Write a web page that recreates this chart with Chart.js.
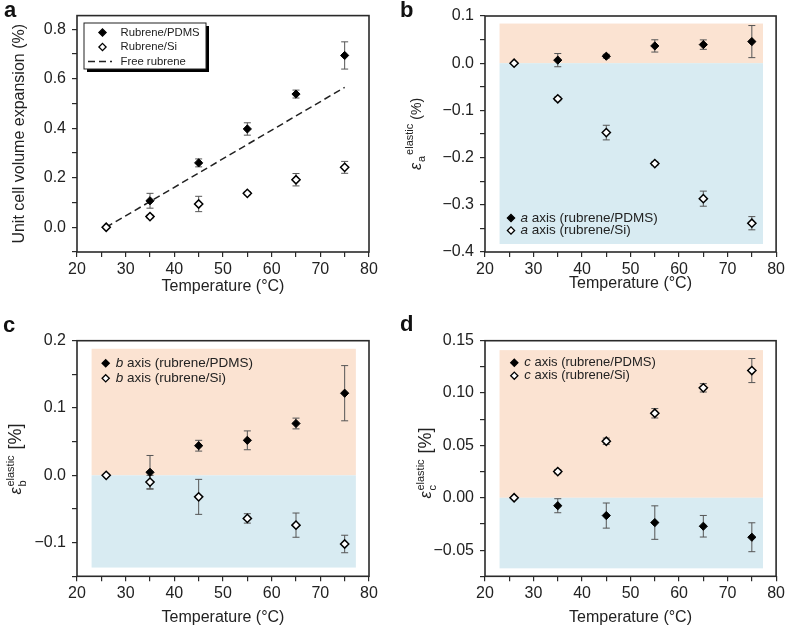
<!DOCTYPE html>
<html>
<head>
<meta charset="utf-8">
<script src="https://cdn.jsdelivr.net/npm/chart.js@4.4.1/dist/chart.umd.min.js"></script>
<style>
  body { margin: 0; background: #fff; }
  canvas { position: absolute; }
</style>
</head>
<body>
<canvas id="chartA" width="394" height="313" style="left:0;top:0"></canvas>
<canvas id="chartB" width="394" height="313" style="left:394px;top:0"></canvas>
<canvas id="chartC" width="394" height="314" style="left:0;top:313px"></canvas>
<canvas id="chartD" width="394" height="314" style="left:394px;top:313px"></canvas>
<script>
// Temperatures (°C)
const tempsSi = [26, 35, 45, 55, 65, 75];
const tempsPdms = [35, 45, 55, 65, 75];

// (a) unit cell volume expansion (%)
const volPdms = [0.107, 0.260, 0.397, 0.538, 0.694];
const volPdmsErr = [0.030, 0.016, 0.025, 0.016, 0.055];
const volSi = [0, 0.043, 0.094, 0.137, 0.192, 0.242];
const volSiErr = [0, 0.006, 0.031, 0.006, 0.025, 0.024];
const freeTemps = [26, 75];
const freeVol = [0, 0.565];
const legendA = ['Rubrene/PDMS', 'Rubrene/Si', 'Free rubrene'];

// (b) elastic strain, a axis (%)
const aPdms = [0.0065, 0.0148, 0.0366, 0.0394, 0.0458];
const aPdmsErr = [0.014, 0.004, 0.013, 0.010, 0.034];
const aSi = [0, -0.0754, -0.147, -0.2127, -0.287, -0.339];
const aSiErr = [0, 0.004, 0.0155, 0.004, 0.016, 0.014];
const legendB = ['a axis (rubrene/PDMS)', 'a axis (rubrene/Si)'];

// (c) elastic strain, b axis (%)
const bPdms = [0.0045, 0.044, 0.052, 0.077, 0.122];
const bPdmsErr = [0.025, 0.008, 0.014, 0.008, 0.041];
const bSi = [0, -0.010, -0.032, -0.064, -0.074, -0.102];
const bSiErr = [0, 0.010, 0.026, 0.007, 0.018, 0.013];
const legendC = ['b axis (rubrene/PDMS)', 'b axis (rubrene/Si)'];

// (d) elastic strain, c axis (%)
const cPdms = [-0.0076, -0.017, -0.0237, -0.0272, -0.0377];
const cPdmsErr = [0.0067, 0.012, 0.016, 0.0103, 0.0138];
const cSi = [0, 0.025, 0.054, 0.0807, 0.105, 0.1215];
const cSiErr = [0, 0.002, 0.003, 0.0045, 0.004, 0.0115];
const legendD = ['c axis (rubrene/PDMS)', 'c axis (rubrene/Si)'];

// shaded tensile / compressive regions: [temperature range], [top, bottom] strain
const bandTemps = [23, 77.3];
const bandsB = [0.084, -0.383];
const bandsC = [0.188, -0.137];
const bandsD = [0.141, -0.0674];

const FONT = '"Liberation Sans", Arial, sans-serif';
const TENSILE = '#fbe3d2';
const COMPRESSIVE = '#d8ebf2';

const pts = (xs, ys) => xs.map((x, i) => ({ x: x, y: ys[i] }));

function filledSet(label, xs, ys, errs) {
  return { label: label, data: pts(xs, ys), errors: errs, pointStyle: 'rectRot', pointRadius: 4.1,
    backgroundColor: '#000', borderColor: '#000', borderWidth: 1 };
}
function openSet(label, xs, ys, errs) {
  return { label: label, data: pts(xs, ys), errors: errs, pointStyle: 'rectRot', pointRadius: 4.1,
    backgroundColor: '#fff', borderColor: '#000', borderWidth: 1.5 };
}

function fmtTick(v, every, dec) {
  const k = Math.round(v / every);
  if (Math.abs(v - k * every) > every * 1e-6) return '';
  const s = Math.abs(v).toFixed(dec);
  return v < -1e-9 ? '\u2212' + s : s;
}

function diamond(ctx, x, y, r, filled) {
  ctx.beginPath();
  ctx.moveTo(x, y - r);
  ctx.lineTo(x + r, y);
  ctx.lineTo(x, y + r);
  ctx.lineTo(x - r, y);
  ctx.closePath();
  ctx.fillStyle = filled ? '#000' : '#fff';
  ctx.fill();
  ctx.lineWidth = 1.3;
  ctx.strokeStyle = '#000';
  ctx.stroke();
}

function drawLegend(ctx, lg) {
  if (lg.box) {
    const b = lg.box;
    ctx.fillStyle = '#000';
    ctx.fillRect(b.x + 3, b.y + 3, b.w, b.h);
    ctx.fillStyle = '#fff';
    ctx.fillRect(b.x, b.y, b.w, b.h);
    ctx.strokeStyle = '#222';
    ctx.lineWidth = 1;
    ctx.strokeRect(b.x, b.y, b.w, b.h);
  }
  lg.labels.forEach((label, i) => {
    const y = lg.y + i * lg.gap;
    const kind = lg.kinds[i];
    if (kind === 'dash') {
      ctx.save();
      ctx.setLineDash([7, 4]);
      ctx.strokeStyle = '#222';
      ctx.lineWidth = 1.5;
      ctx.beginPath();
      ctx.moveTo(lg.dashX[0], y);
      ctx.lineTo(lg.dashX[1], y);
      ctx.stroke();
      ctx.restore();
    } else {
      diamond(ctx, lg.markerX, y, lg.r, kind === 'filled');
    }
    ctx.fillStyle = '#222';
    ctx.textBaseline = 'middle';
    ctx.textAlign = 'left';
    let x = lg.textX;
    let rest = label;
    if (lg.italicFirst) {
      const sp = label.indexOf(' ');
      const it = label.slice(0, sp);
      ctx.font = 'italic ' + lg.size + 'px ' + FONT;
      ctx.fillText(it, x, y);
      x += ctx.measureText(it).width;
      rest = label.slice(sp);
    }
    ctx.font = lg.size + 'px ' + FONT;
    ctx.fillText(rest, x, y);
  });
}

// rotated y title: epsilon with subscript axis and superscript "elastic"
function drawStrainTitle(ctx, t) {
  ctx.save();
  ctx.translate(t.x, t.cy);
  ctx.rotate(-Math.PI / 2);
  ctx.textBaseline = 'alphabetic';
  ctx.textAlign = 'left';
  ctx.fillStyle = '#222';
  const epsFont = 'italic ' + t.epsSize + 'px ' + FONT;
  const smallFont = t.smallSize + 'px ' + FONT;
  const unitFont = t.unitSize + 'px ' + FONT;
  ctx.font = epsFont;
  const wE = ctx.measureText('\u03b5').width;
  ctx.font = smallFont;
  const wSub = ctx.measureText(t.sub).width;
  const wSup = ctx.measureText('elastic').width;
  ctx.font = unitFont;
  const wU = ctx.measureText(t.unit).width;
  const wScript = t.supAfterSub ? wSub + 1 + wSup : Math.max(wSub, wSup);
  const total = wE + 1 + wScript + t.gap + wU;
  let x = -total / 2;
  ctx.font = epsFont;
  ctx.fillText('\u03b5', x, 0);
  x += wE + 1;
  ctx.font = smallFont;
  ctx.fillText(t.sub, x, t.subShift);
  ctx.fillText('elastic', t.supAfterSub ? x + wSub + 1 : x, -t.supShift);
  x += wScript + t.gap;
  ctx.font = unitFont;
  ctx.fillText(t.unit, x, 0);
  ctx.restore();
}

const panelPlugin = {
  id: 'panel',
  beforeDatasetsDraw(chart, args, o) {
    const { ctx, scales: { x, y } } = chart;
    ctx.save();
    if (o.bands) {
      const x0 = x.getPixelForValue(bandTemps[0]);
      const x1 = x.getPixelForValue(bandTemps[1]);
      const yz = y.getPixelForValue(0);
      const yt = y.getPixelForValue(o.bands[0]);
      const yb = y.getPixelForValue(o.bands[1]);
      ctx.fillStyle = TENSILE;
      ctx.fillRect(x0, yt, x1 - x0, yz - yt);
      ctx.fillStyle = COMPRESSIVE;
      ctx.fillRect(x0, yz, x1 - x0, yb - yz);
    }
    // error bars
    ctx.strokeStyle = '#555';
    ctx.lineWidth = 1;
    chart.data.datasets.forEach(ds => {
      if (!ds.errors) return;
      ds.data.forEach((p, i) => {
        const e = ds.errors[i];
        if (!e) return;
        const px = x.getPixelForValue(p.x);
        const top = y.getPixelForValue(p.y + e);
        const bot = y.getPixelForValue(p.y - e);
        ctx.beginPath();
        ctx.moveTo(px, top); ctx.lineTo(px, bot);
        ctx.moveTo(px - 3.5, top); ctx.lineTo(px + 3.5, top);
        ctx.moveTo(px - 3.5, bot); ctx.lineTo(px + 3.5, bot);
        ctx.stroke();
      });
    });
    ctx.restore();
  },
  afterDraw(chart, args, o) {
    const { ctx, chartArea: ca } = chart;
    ctx.save();
    ctx.strokeStyle = '#2a2a2a';
    ctx.lineWidth = 1.6;
    ctx.strokeRect(ca.left, ca.top, ca.right - ca.left, ca.bottom - ca.top);
    ctx.fillStyle = '#111';
    ctx.font = 'bold 22px ' + FONT;
    ctx.textBaseline = 'alphabetic';
    ctx.textAlign = 'left';
    ctx.fillText(o.letter, o.letterX, o.letterY);
    if (o.legend) drawLegend(ctx, o.legend);
    if (o.strainTitle) drawStrainTitle(ctx, o.strainTitle);
    ctx.restore();
  }
};

function makeChart(id, cfg) {
  const canvas = document.getElementById(id);
  const W = canvas.width, H = canvas.height;
  const a = cfg.area;
  const gridOpts = { drawOnChartArea: false, drawTicks: true, tickLength: 5, tickColor: '#2a2a2a', lineWidth: 1.2 };
  return new Chart(canvas, {
    type: 'scatter',
    data: { datasets: cfg.datasets },
    options: {
      responsive: false,
      animation: false,
      layout: { padding: { left: 0, top: a.top, right: W - a.right, bottom: 0 } },
      plugins: { legend: { display: false }, tooltip: { enabled: false }, panel: cfg.panel },
      scales: {
        x: {
          type: 'linear', min: 20, max: 80,
          border: { display: false },
          grid: gridOpts,
          ticks: { stepSize: 5, padding: 3, autoSkip: false, maxRotation: 0, color: '#222',
            font: { family: FONT, size: 16 }, callback: v => fmtTick(v, 10, 0) },
          title: { display: true, text: 'Temperature (°C)', color: '#222',
            font: { family: FONT, size: 16 }, padding: { top: 0, bottom: cfg.xTitlePad } },
          afterFit: s => { s.height = H - a.bottom; }
        },
        y: {
          type: 'linear', min: cfg.yMin, max: cfg.yMax,
          border: { display: false },
          grid: gridOpts,
          ticks: { stepSize: cfg.yStep, includeBounds: false, padding: 6, autoSkip: false, color: '#222',
            font: { family: FONT, size: 16 }, callback: v => fmtTick(v, cfg.yLabelStep, cfg.yDec) },
          title: cfg.yTitle
            ? { display: true, text: cfg.yTitle, color: '#222', font: { family: FONT, size: 16 }, padding: { top: 10, bottom: 0 } }
            : { display: false },
          afterFit: s => { s.width = a.left; }
        }
      }
    },
    plugins: [panelPlugin]
  });
}

// (a)
makeChart('chartA', {
  area: { left: 77, right: 369, top: 15, bottom: 252 },
  yMin: -0.1, yMax: 0.855, yStep: 0.1, yLabelStep: 0.2, yDec: 1,
  yTitle: 'Unit cell volume expansion (%)',
  xTitlePad: 17,
  datasets: [
    filledSet(legendA[0], tempsPdms, volPdms, volPdmsErr),
    openSet(legendA[1], tempsSi, volSi, volSiErr),
    { type: 'line', label: legendA[2], data: pts(freeTemps, freeVol), showLine: true, borderDash: [7, 4],
      borderColor: '#222', borderWidth: 1.5, pointRadius: 0, fill: false }
  ],
  panel: {
    letter: 'a', letterX: 4, letterY: 17,
    legend: { labels: legendA, kinds: ['filled', 'open', 'dash'], box: { x: 84, y: 23, w: 122, h: 46 },
      markerX: 102.5, r: 3.6, y: 32.5, gap: 14.5, textX: 120.5, size: 11.3, dashX: [88, 112] }
  }
});

// (b)
makeChart('chartB', {
  area: { left: 91, right: 384, top: 16, bottom: 252 },
  yMin: -0.4, yMax: 0.1, yStep: 0.05, yLabelStep: 0.1, yDec: 1,
  xTitlePad: 20,
  datasets: [
    filledSet(legendB[0], tempsPdms, aPdms, aPdmsErr),
    openSet(legendB[1], tempsSi, aSi, aSiErr)
  ],
  panel: {
    letter: 'b', letterX: 6, letterY: 17, bands: bandsB,
    legend: { labels: legendB, kinds: ['filled', 'open'], italicFirst: true,
      markerX: 117, r: 3.6, y: 218, gap: 12.5, textX: 126.5, size: 13.5 },
    strainTitle: { x: 27, cy: 134, sub: 'a', unit: '(%)', epsSize: 16, smallSize: 11, unitSize: 14,
      subShift: 4, supShift: 8, supAfterSub: true, gap: 4 }
  }
});

// (c)
makeChart('chartC', {
  area: { left: 77, right: 369, top: 27.7, bottom: 263.3 },
  yMin: -0.15, yMax: 0.2, yStep: 0.05, yLabelStep: 0.1, yDec: 1,
  xTitlePad: 0,
  datasets: [
    filledSet(legendC[0], tempsPdms, bPdms, bPdmsErr),
    openSet(legendC[1], tempsSi, bSi, bSiErr)
  ],
  panel: {
    letter: 'c', letterX: 3, letterY: 18.5, bands: bandsC,
    legend: { labels: legendC, kinds: ['filled', 'open'], italicFirst: true,
      markerX: 105.7, r: 3.6, y: 50.3, gap: 15, textX: 115.7, size: 13.5 },
    strainTitle: { x: 21, cy: 146, sub: 'b', unit: '[%]', epsSize: 16, smallSize: 11, unitSize: 18,
      subShift: 5, supShift: 7.5, supAfterSub: false, gap: 6 }
  }
});

// (d)
makeChart('chartD', {
  area: { left: 91, right: 384, top: 27.7, bottom: 263.3 },
  yMin: -0.075, yMax: 0.15, yStep: 0.025, yLabelStep: 0.05, yDec: 2,
  xTitlePad: 0,
  datasets: [
    filledSet(legendD[0], tempsPdms, cPdms, cPdmsErr),
    openSet(legendD[1], tempsSi, cSi, cSiErr)
  ],
  panel: {
    letter: 'd', letterX: 6, letterY: 18, bands: bandsD,
    legend: { labels: legendD, kinds: ['filled', 'open'], italicFirst: true,
      markerX: 120.3, r: 3.6, y: 49.7, gap: 13, textX: 130.3, size: 13 },
    strainTitle: { x: 37, cy: 150, sub: 'c', unit: '[%]', epsSize: 16, smallSize: 11, unitSize: 18,
      subShift: 5, supShift: 7.5, supAfterSub: false, gap: 6 }
  }
});
</script>
</body>
</html>
